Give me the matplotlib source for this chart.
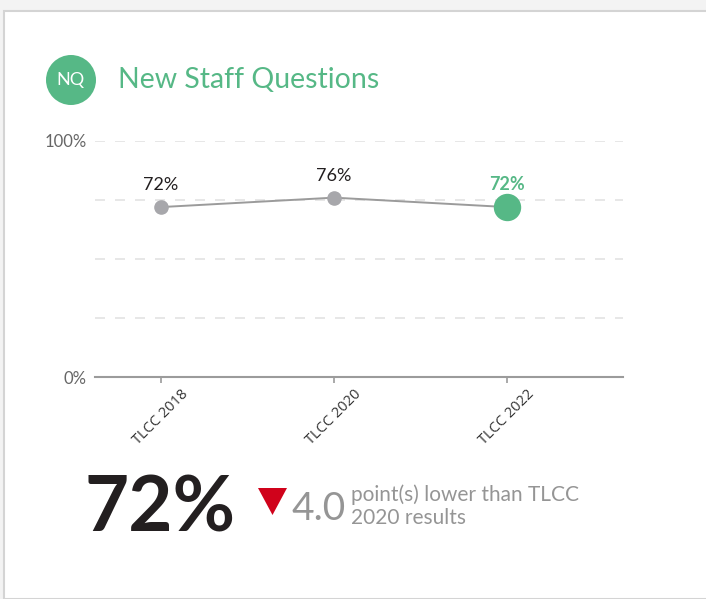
import matplotlib.pyplot as plt
import numpy as np
from matplotlib.patches import Circle, Rectangle, Polygon

plt.rcParams['font.family'] = ['Lato', 'DejaVu Sans']

C_GREEN = '#56b886'
C_GRAY = '#a7a7ab'
C_LINE = '#9b9b9b'
C_TEXT = '#231f20'
C_SOFT = '#959595'

# data
surveys = ['TLCC 2018', 'TLCC 2020', 'TLCC 2022']
scores = [72, 76, 72]
y_ticks = [0, 25, 50, 75, 100]
y_labels = ['0%', '', '', '', '100%']
current = 72
change = -4.0

W, H = 706, 599
fig = plt.figure(figsize=(W / 100, H / 100), dpi=100)
fig.patch.set_facecolor('#f3f3f3')

# white card
card = Rectangle((4 / W, 0), 1.0, (H - 11) / H, transform=fig.transFigure,
                 facecolor='white', edgecolor='#d4d4d4', linewidth=1.5, zorder=-5)
fig.patches.append(card)

# header badge + title (pixel coordinates keep the circle round)
badge = Circle((71, H - 80), 25, transform=None, facecolor=C_GREEN, edgecolor='none')
fig.patches.append(badge)
fig.text(71 / W, 1 - 80 / H, 'NQ', color='white', fontsize=13,
         ha='center', va='center')
fig.text(118 / W, 1 - 80 / H, 'New Staff Questions', color=C_GREEN, fontsize=20.5,
         ha='left', va='center')

# chart
ax = fig.add_axes([95 / W, 222 / H, 528 / W, 236 / H])
ax.set_zorder(2)
ax.patch.set_alpha(0)
x = np.arange(len(surveys))
ax.set_xlim(-66 / 173, 2 + 116 / 173)
ax.set_ylim(0, 100)

for t in y_ticks[1:]:
    ax.axhline(t, color='#e3e3e3', linestyle=(0, (6, 6)), linewidth=1.2, zorder=0)

ax.plot(x, scores, color=C_LINE, linewidth=1.4, zorder=2)
ax.scatter(x[:-1], scores[:-1], s=90, color=C_GRAY, zorder=3, clip_on=False)
ax.scatter(x[-1:], scores[-1:], s=350, color=C_GREEN, zorder=3, clip_on=False)

for i, v in enumerate(scores):
    last = i == len(scores) - 1
    ax.annotate(f'{v}%', (x[i], v), xytext=(0, 10), textcoords='offset points',
                ha='center', va='bottom', fontsize=13,
                color=C_GREEN if last else C_TEXT,
                fontweight='bold' if last else 'normal')

for s in ['top', 'right', 'left']:
    ax.spines[s].set_visible(False)
ax.spines['bottom'].set_color(C_LINE)
ax.spines['bottom'].set_linewidth(1.5)

ax.set_xticks(x)
ax.set_xticklabels(surveys, rotation=45, ha='center',
                   fontsize=10.5, color='#333333', family=['Open Sans', 'DejaVu Sans'])
ax.tick_params(axis='x', length=4, color=C_LINE, width=1.2, pad=3)
ax.set_yticks(y_ticks)
ax.set_yticklabels(y_labels, fontsize=12, color='#666666')
ax.tick_params(axis='y', length=0, pad=6)

# summary
fig.text(84 / W, 1 - 531 / H, f'{current}%', fontsize=55, fontweight='bold',
         color=C_TEXT, ha='left', va='baseline')
tri = Polygon([(258, H - 488), (287, H - 488), (272.5, H - 515)], closed=True,
              transform=None, facecolor='#d0021b', edgecolor='none')
fig.patches.append(tri)
fig.text(291 / W, 1 - 520 / H, f'{abs(change):.1f}', fontsize=28, color=C_SOFT,
         ha='left', va='baseline')
fig.text(351 / W, 1 - 501 / H, 'point(s) lower than TLCC', fontsize=15,
         color=C_SOFT, ha='left', va='baseline')
fig.text(351 / W, 1 - 524 / H, '2020 results', fontsize=15,
         color=C_SOFT, ha='left', va='baseline')

fig.savefig('out.png', dpi=100, facecolor=fig.get_facecolor())
